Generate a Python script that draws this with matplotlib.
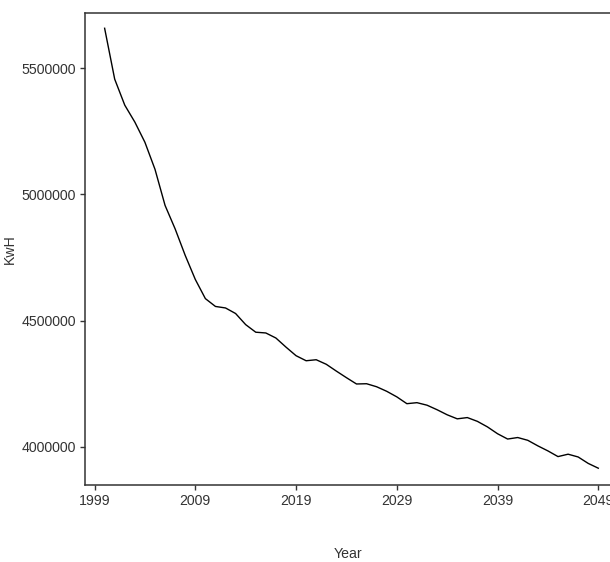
import matplotlib.pyplot as plt
import numpy as np

plt.rcParams['font.family'] = ['Liberation Sans', 'DejaVu Sans']

# yearly energy use, 2000-2049
years = list(range(2000, 2050))
kwh = [5657500, 5456000, 5353000, 5286000, 5206000, 5099000, 4956000, 4863000, 4758000, 4663000,
       4587000, 4556000, 4550000, 4528000, 4484000, 4454000, 4451000, 4431000, 4395000, 4361000,
       4341000, 4345000, 4327000, 4300000, 4274000, 4249000, 4250000, 4238000, 4220000, 4198000,
       4171000, 4175000, 4165000, 4147000, 4127000, 4111000, 4116000, 4101000, 4079000, 4052000,
       4031000, 4037000, 4026000, 4004000, 3984000, 3961500, 3971000, 3960000, 3934500, 3915500]

xticks = [1999, 2009, 2019, 2029, 2039, 2049]
yticks = [4000000, 4500000, 5000000, 5500000]

fig = plt.figure(figsize=(6.1, 5.62), dpi=100)
ax = fig.add_axes([0.1393, 0.137, 0.863, 0.8399])

ax.plot(years, kwh, color='black', lw=1.0)

ax.set_xlim(1998.05, 2050.3)
ax.set_ylim(3849000, 5718000)
ax.set_xticks(xticks)
ax.set_yticks(yticks)
ax.set_yticklabels([str(v) for v in yticks])

for s in ax.spines.values():
    s.set_color('#333333')
    s.set_linewidth(1.1)
ax.tick_params(colors='#333333', labelcolor='#333333', labelsize=10.2,
               length=3.5, width=1.0, pad=3)

ax.set_xlabel('Year', fontsize=10.2, color='#333333')
ax.set_ylabel('KwH', fontsize=10.2, color='#333333')
ax.xaxis.set_label_coords(0.5, -0.132)
ax.yaxis.set_label_coords(-0.129, 0.5)

fig.savefig('out.png', dpi=100)
